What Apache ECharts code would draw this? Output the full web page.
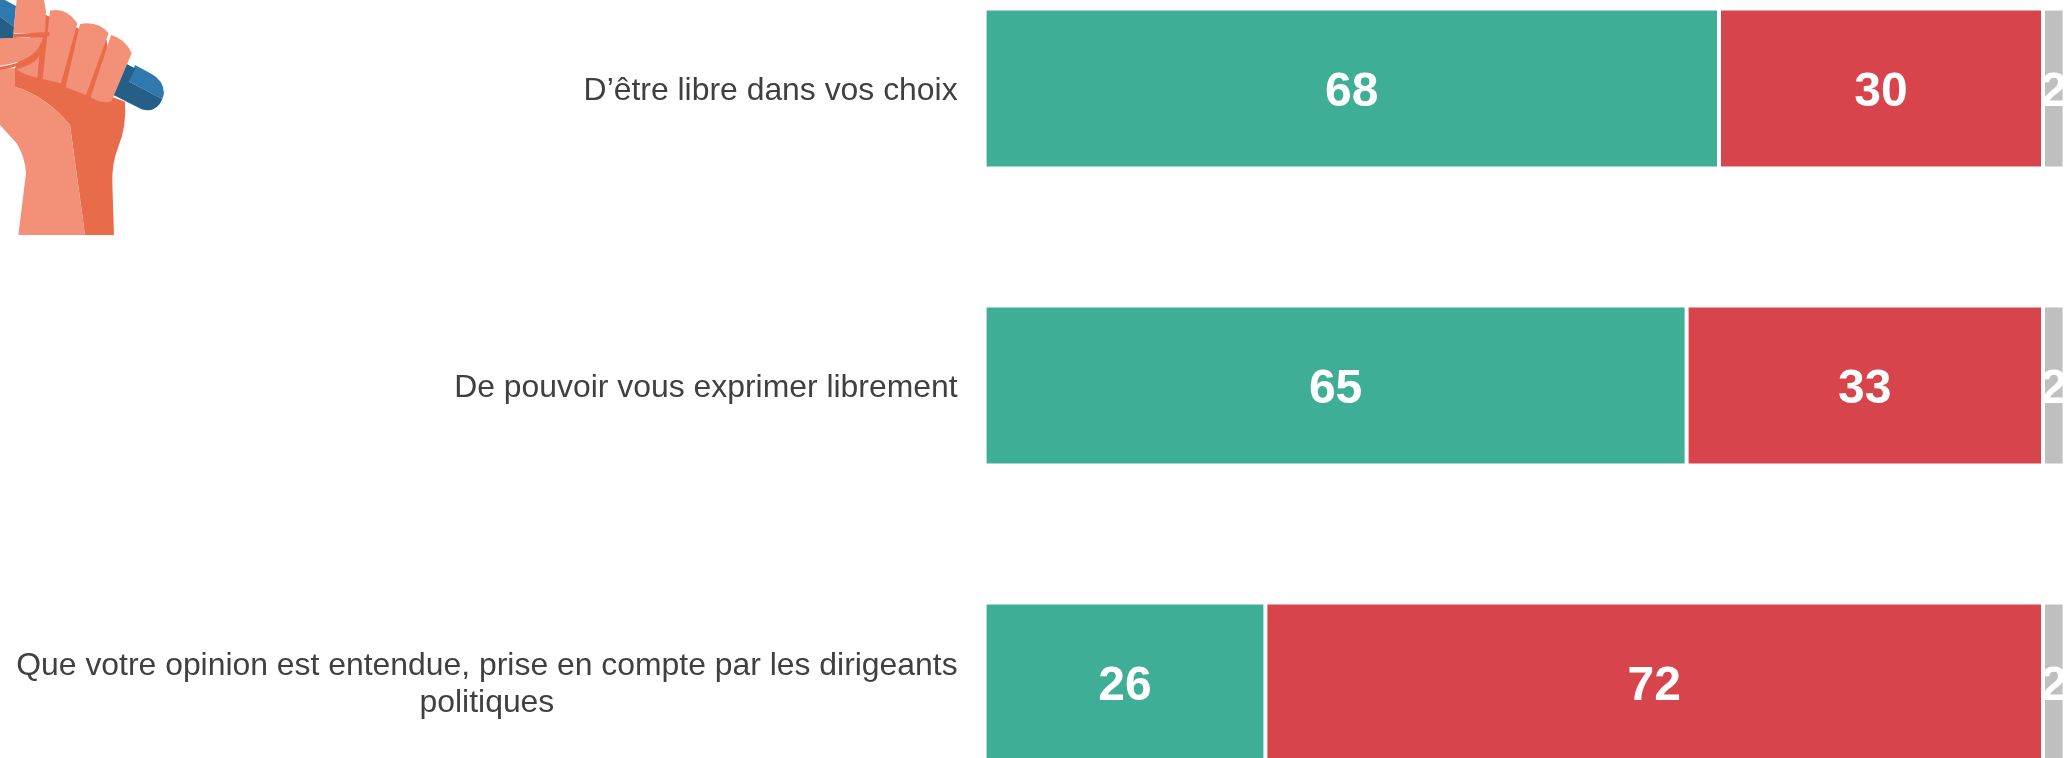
<!DOCTYPE html>
<html><head><meta charset="utf-8">
<style>html,body{margin:0;padding:0;background:#fff}#c{width:2065px;height:758px}</style>
<script src="https://cdn.jsdelivr.net/npm/echarts@6/dist/echarts.min.js"></script>
</head><body><div id="c"></div>
<script>
const categories = ["D’être libre dans vos choix", "De pouvoir vous exprimer librement", "Que votre opinion est entendue, prise en compte par les dirigeants\npolitiques"];
const oui = [68, 65, 26];
const non = [30, 33, 72];
const nsp = [2, 2, 2];
const seriesColors = ["#3FAE96", "#D7444B", "#BFBFBF"];

const chart = echarts.init(document.getElementById('c'), null, {renderer: 'canvas'});
const mk = (data, color) => ({
  type: 'bar', stack: 't', data, barWidth: 160,
  itemStyle: {color, borderColor: '#fff', borderWidth: 2},
  label: {show: true, position: 'inside', color: '#fff', fontFamily: 'Liberation Sans', fontWeight: 'bold', fontSize: 48},
  labelLayout: {hideOverlap: false, dy: 4},
  emphasis: {disabled: true}, animation: false, silent: true, clip: false
});
let shapeCount = 0;
const shape = d => {
  const name = 'handPart' + (shapeCount++);
  echarts.graphic.registerShape(name, echarts.graphic.extendPath(d, {}));
  return name;
};
const P = (d, fill) => ({type: shape(d), style: {fill}, silent: true});
const S = (d, stroke, w) => ({type: shape(d), style: {fill: 'none', stroke, lineWidth: w}, silent: true});
const LB = '#2F79AE', DB = '#255F88', DO = '#E96C4A', LO = '#F39078';
chart.setOption({
  backgroundColor: '#fff',
  animation: false,
  grid: {left: 984.6, width: 1080, top: -60, height: 891, containLabel: false, outerBoundsMode: 'none'},
  xAxis: {type: 'value', min: 0, max: 100, show: false},
  yAxis: {
    type: 'category', inverse: true, data: categories,
    axisLine: {show: false}, axisTick: {show: false}, splitLine: {show: false},
    axisLabel: {
      margin: 27, padding: [5, 0, 0, 0], color: '#404040', fontFamily: 'Liberation Sans', fontSize: 32, lineHeight: 37,
      hideOverlap: false, interval: 0,
      formatter: v => v.split('\n').map(l => '{c|' + l + '}').join('\n'),
      rich: {c: {align: 'center', color: '#404040', fontFamily: 'Liberation Sans', fontSize: 31.9, lineHeight: 37}}
    }
  },
  series: [mk(oui, seriesColors[0]), mk(non, seriesColors[1]), mk(nsp, seriesColors[2])],
  graphic: [{
    type: 'group', x: 0, y: 0, scaleX: 1/3, scaleY: 1/3, silent: true,
    children: [
      P('M405,195 L455,222 Q490,240 492,280 L487,297 L388,245 Z', LB),
      P('M380,192 L405,205 L388,245 L487,297 Q470,340 425,328 L340,285 Z', DB),
      P('M0,0 L15,0 L48,18 L42,80 L0,50 Z', LB),
      P('M0,50 L42,80 L40,115 L0,118 Z', DB),
      P('M45,205 L125,40 L320,120 L335,290 L375,305 Q380,380 355,440 Q335,490 337,550 L342,705 L255,705 L210,375 Q140,290 45,260 Z', DO),
      P('M0,205 L45,205 L45,260 Q140,290 210,375 L255,705 L55,705 L78,520 Q75,470 50,430 L0,375 Z', LO),
      P('M50,0 L132,0 L138,35 L135,98 L40,100 Z', LO),
      P('M150,32 Q200,22 232,70 L183,250 L128,237 Z', LO),
      P('M240,72 Q295,62 326,100 L258,285 L197,262 Z', LO),
      P('M333,105 Q375,115 395,160 L335,302 Q310,315 272,292 Z', LO),
      P('M50,208 Q110,190 118,165 L112,233 Q70,225 50,208 Z', LO),
      P('M0,115 L135,112 Q110,185 0,197 Z', LO),
      S('M40,108 L148,102', DO, 12),
      S('M135,110 Q115,190 0,205', DO, 9)
    ]
  }]
});
</script></body></html>
